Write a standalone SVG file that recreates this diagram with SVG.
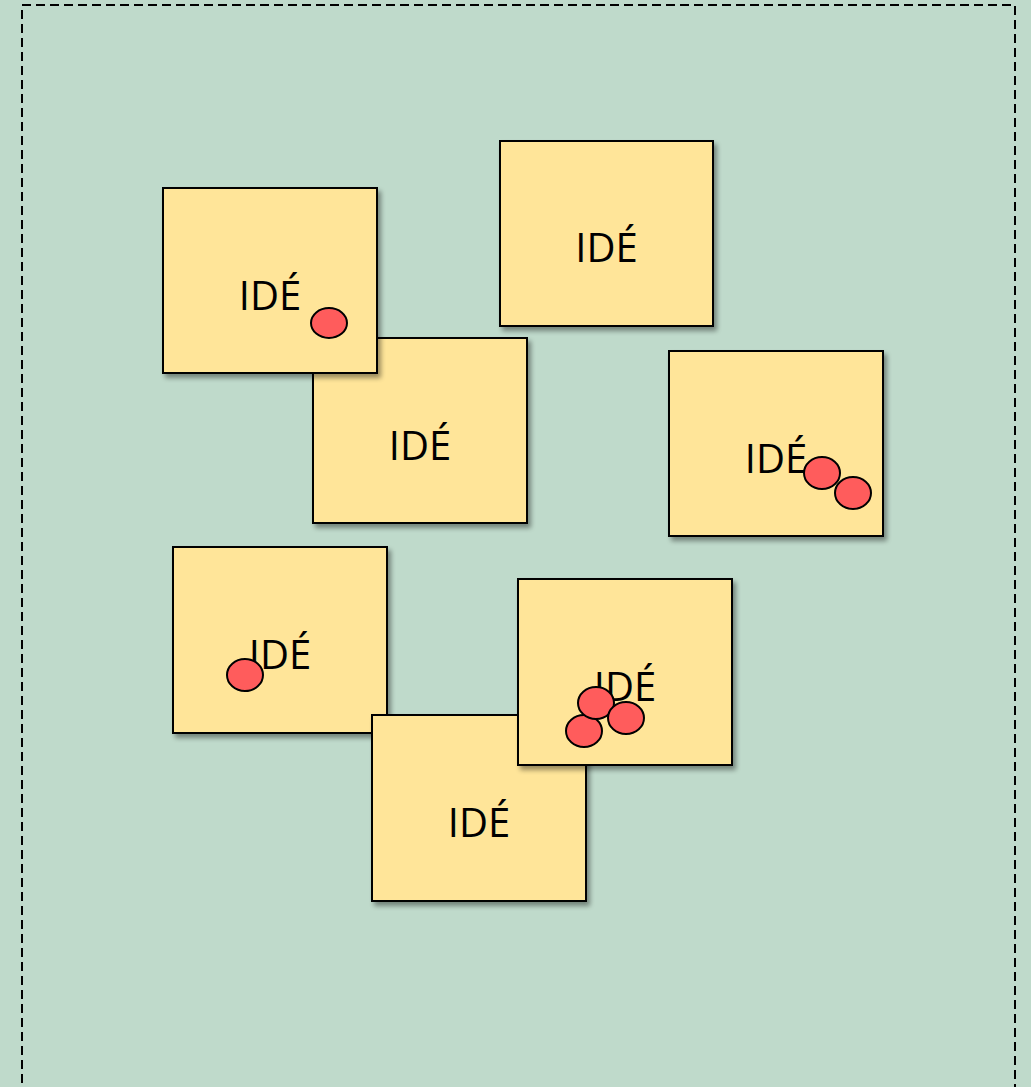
<svg xmlns="http://www.w3.org/2000/svg" width="1031" height="1087" viewBox="0 0 1031 1087">
<style>
.note{fill:#FFE599;stroke:#000;stroke-width:2;filter:url(#sh)}
.lbl{font-family:"Open Sans","Liberation Sans",sans-serif;font-size:40px;fill:#000;text-anchor:middle}
.dot{fill:#FF5C5C;stroke:#000;stroke-width:2}
</style>
<defs>
<filter id="sh" x="-10%" y="-10%" width="130%" height="130%">
<feGaussianBlur in="SourceAlpha" stdDeviation="2.5"/>
<feOffset dx="3" dy="4" result="b"/>
<feComponentTransfer><feFuncA type="linear" slope="0.4"/></feComponentTransfer>
<feMerge><feMergeNode/><feMergeNode in="SourceGraphic"/></feMerge>
</filter>
</defs>
<rect width="1031" height="1087" fill="#BFDACB"/>
<rect x="22" y="5" width="993" height="1100" fill="none" stroke="#000" stroke-width="2" stroke-dasharray="9 5"/>
<g id="note2"><rect class="note" x="500" y="141" width="213" height="185"/><text class="lbl" x="606.5" y="262">IDÉ</text></g>
<g id="note3"><rect class="note" x="313" y="338" width="214" height="185"/><text class="lbl" x="420" y="460">IDÉ</text></g>
<g id="note1"><rect class="note" x="163" y="188" width="214" height="185"/><text class="lbl" x="270" y="310">IDÉ</text><ellipse class="dot" cx="329" cy="323" rx="18" ry="15"/></g>
<g id="note4"><rect class="note" x="669" y="351" width="214" height="185"/><text class="lbl" x="776" y="473">IDÉ</text><ellipse class="dot" cx="822" cy="473" rx="18" ry="16"/><ellipse class="dot" cx="853" cy="493" rx="18" ry="16"/></g>
<g id="note5"><rect class="note" x="173" y="547" width="214" height="186"/><text class="lbl" x="280" y="669">IDÉ</text><ellipse class="dot" cx="245" cy="675" rx="18" ry="16"/></g>
<g id="note6"><rect class="note" x="372" y="715" width="214" height="186"/><text class="lbl" x="479" y="837">IDÉ</text></g>
<g id="note7"><rect class="note" x="518" y="579" width="214" height="186"/><text class="lbl" x="625" y="701">IDÉ</text><ellipse class="dot" cx="584" cy="731" rx="18" ry="16"/><ellipse class="dot" cx="596" cy="703" rx="18" ry="16"/><ellipse class="dot" cx="626" cy="718" rx="18" ry="16"/></g>
<g id="connectors"/>
</svg>
